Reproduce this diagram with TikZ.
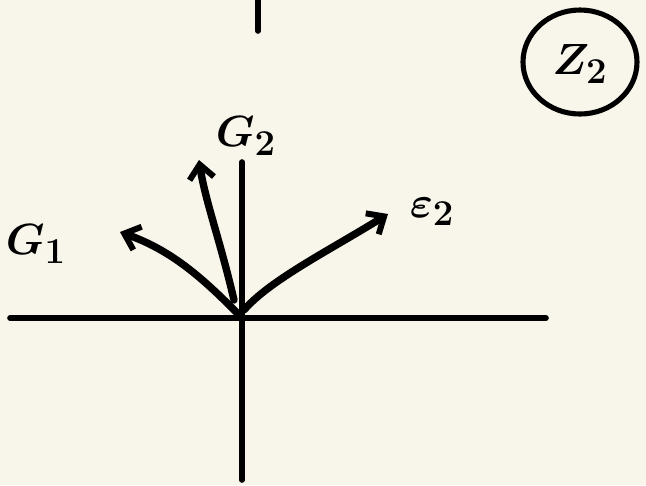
\documentclass[tikz,border=0pt]{standalone}
\usepackage{bm}
\usetikzlibrary{arrows.meta}
\definecolor{paper}{HTML}{F8F6EB}
\begin{document}
\begin{tikzpicture}[x=0.02cm,y=-0.02cm,
  axis/.style={line width=3.2pt,line cap=round},
  vec/.style={line width=4.2pt,line cap=round,-{Straight Barb[length=8pt,width=14pt,line width=3.4pt]}},
  lbl/.style={font=\fontsize{32}{38}\selectfont,inner sep=0pt}]
\fill[paper] (0,0) rectangle (646,485);
\useasboundingbox (0,0) rectangle (646,485);
\coordinate (o) at (240,316);
\coordinate (topa) at (258,0);
\coordinate (topb) at (258,31);
\coordinate (xl) at (10,318);
\coordinate (xr) at (546,318);
\coordinate (yt) at (242,162);
\coordinate (yb) at (242,480);
\coordinate (g1) at (120,232);
\coordinate (g2) at (199,160);
\coordinate (e2) at (388,214);
\draw[axis] (topa) -- (topb);
\draw[axis] (xl) -- (xr);
\draw[axis] (yt) -- (yb);
\draw[vec] (o) .. controls (200,275) and (170,250) .. (g1);
\draw[vec] (234,300) .. controls (220,240) and (205,200) .. (g2);
\draw[vec] (244,310) .. controls (270,280) and (330,250) .. (e2);
\node[lbl] (G1) at (36,244) {$\bm{G_1}$};
\node[lbl] (G2) at (246,136) {$\bm{G_2}$};
\node[lbl] (E2) at (432,212) {$\bm{\varepsilon_2}$};
\node[lbl] (Z2) at (580,64) {$\bm{Z_2}$};
\draw[line width=2.9pt] (580,62) ellipse [x radius=57, y radius=52];
\end{tikzpicture}
\end{document}
